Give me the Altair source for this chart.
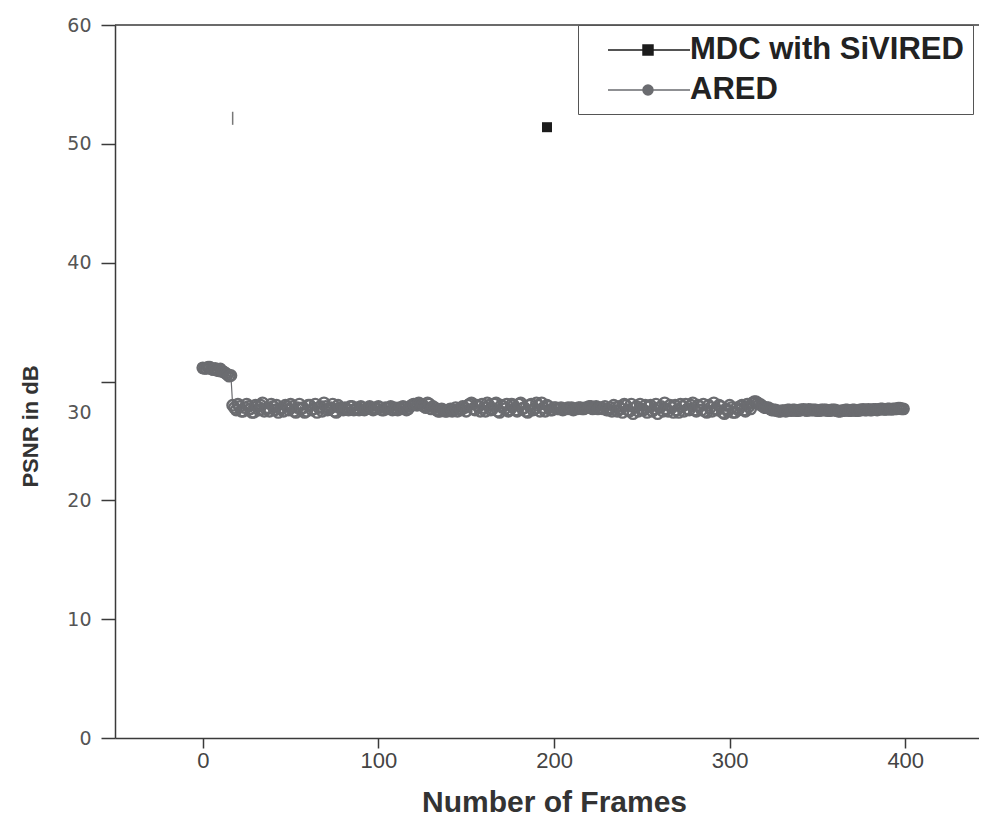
import altair as alt
import pandas as pd

# ---------------- data ----------------
series_names = ["MDC with SiVIRED", "ARED"]
series_colors = ["#1c1c1c", "#6b6c70"]

# ARED: first cluster (frames 0-16)
ared_frames_start = [0, 1, 2, 3, 4, 5, 6, 7, 8, 9, 10, 11, 12, 13, 14, 15, 16]
ared_psnr_start = [31.15, 31.1, 31.1, 31.2, 31.2, 31.05, 31.0, 31.1, 30.95, 30.9,
                   31.05, 30.85, 30.8, 30.7, 30.6, 30.45, 30.5]

# ARED band, odd frames 17-399
ared_frames_odd = list(range(17, 400, 2))
ared_psnr_odd = [
    28.0, 27.6, 27.9, 27.5, 28.1, 27.7, 27.4, 27.9, 28.0, 27.5, 27.8, 28.1, 27.6, 27.4, 27.8, 28.0,
    27.6, 27.9, 27.4, 28.1, 27.8, 27.5, 28.0, 27.7, 27.4, 27.9, 28.2, 27.6, 27.8, 27.5, 28.0, 27.7,
    27.8, 27.6, 27.9, 27.7, 27.6, 27.8, 27.7, 27.9, 27.6, 27.7, 27.8, 27.6, 27.7, 27.9, 27.8, 27.6,
    27.7, 27.8, 27.7, 28.0, 28.1, 28.2, 28.0, 27.8, 28.1, 27.9, 27.6, 27.5, 27.6, 27.5, 27.7, 27.6,
    27.5, 27.6, 27.8, 28.0, 28.2, 27.6, 27.9, 28.1, 27.5, 28.0, 27.7, 28.2, 27.4, 27.9, 28.1, 27.6,
    28.0, 27.5, 28.2, 27.8, 27.4, 28.1, 27.7, 28.0, 28.2, 27.5, 27.9, 27.6, 27.8, 27.7, 27.6, 27.7,
    27.7, 27.6, 27.7, 27.8, 27.7, 27.8, 27.9, 27.8, 27.7, 27.8, 27.9, 27.6, 27.5, 27.8, 27.9, 27.4,
    28.0, 27.5, 27.3, 27.9, 28.1, 27.6, 27.4, 28.0, 27.7, 27.3, 27.9, 28.2, 27.5, 27.8, 28.0, 27.4,
    27.9, 28.1, 27.6, 28.2, 27.5, 27.9, 28.1, 27.4, 27.8, 28.2, 27.6, 27.9, 27.3, 27.5, 27.8, 27.4,
    27.6, 28.0, 27.5, 27.9, 28.2, 28.3, 28.1, 27.9, 27.8, 27.7, 27.6, 27.55, 27.5, 27.55, 27.6, 27.55,
    27.6, 27.55, 27.6, 27.6, 27.65, 27.6, 27.6, 27.55, 27.6, 27.6, 27.55, 27.6, 27.55, 27.5, 27.55, 27.6,
    27.55, 27.6, 27.55, 27.6, 27.6, 27.65, 27.6, 27.65, 27.65, 27.7, 27.65, 27.7, 27.7, 27.7, 27.75, 27.7,
]

# ARED band, even frames 18-398
ared_frames_even = list(range(18, 399, 2))
ared_psnr_even = [
    27.8, 28.1, 27.5, 27.8, 27.9, 27.4, 28.0, 27.6, 28.2, 27.7, 27.5, 27.9, 28.0, 27.7, 27.5, 27.9,
    28.1, 27.5, 27.8, 27.7, 27.4, 28.0, 27.6, 28.1, 27.8, 27.5, 27.9, 27.7, 28.1, 27.4, 27.8, 27.6,
    27.7, 27.9, 27.6, 27.8, 27.9, 27.6, 27.8, 27.7, 27.8, 27.9, 27.6, 27.8, 27.8, 27.6, 27.7, 27.8,
    27.9, 27.6, 27.9, 28.1, 28.0, 28.1, 27.9, 28.2, 27.7, 27.8, 27.5, 27.7, 27.5, 27.6, 27.5, 27.8,
    27.7, 27.9, 27.5, 28.1, 27.7, 28.0, 27.5, 27.8, 28.2, 27.6, 28.1, 27.5, 28.0, 27.7, 27.5, 28.1,
    27.6, 28.1, 27.7, 27.5, 28.0, 27.6, 28.2, 27.5, 27.8, 28.0, 27.6, 27.8, 27.7, 27.8, 27.7, 27.8,
    27.8, 27.7, 27.8, 27.7, 27.8, 27.9, 27.7, 27.9, 27.8, 27.7, 27.6, 27.8, 28.0, 27.5, 27.7, 28.1,
    27.6, 28.1, 27.8, 27.5, 27.7, 28.0, 27.9, 27.5, 28.1, 27.8, 27.5, 27.7, 28.0, 27.4, 27.6, 28.1,
    27.5, 27.7, 28.0, 27.6, 28.0, 27.6, 27.5, 28.0, 27.5, 27.7, 28.0, 27.4, 27.7, 28.0, 27.4, 27.8,
    27.9, 27.6, 28.1, 27.7, 28.3, 28.2, 28.0, 27.8, 27.8, 27.6, 27.6, 27.5, 27.55, 27.5, 27.6, 27.6,
    27.55, 27.6, 27.65, 27.55, 27.6, 27.6, 27.55, 27.6, 27.6, 27.55, 27.6, 27.6, 27.5, 27.55, 27.6, 27.55,
    27.6, 27.55, 27.6, 27.65, 27.6, 27.6, 27.65, 27.6, 27.7, 27.65, 27.7, 27.65, 27.7, 27.75, 27.7,
]

# MDC with SiVIRED: a single visible marker
mdc_frames = [196]
mdc_psnr = [51.4]

# small vertical stroke seen near frame 17, ~52 dB
spike_frames = [17]
spike_low = [51.6]
spike_high = [52.7]

x_ticks = [0, 100, 200, 300, 400]
y_ticks = [0, 10, 20, 30, 40, 50, 60]
x_domain = [-50, 442]
y_domain = [0, 60]

# legend symbols: line + marker (custom paths; unit = half of the 30px symbol box)
legend_paths = [
    "M0.333,0H5.8M2.667,-0.333H3.333V0.333H2.667Z",
    "M0.333,0H5.8M2.667,0A0.333,0.333,0,1,1,3.333,0A0.333,0.333,0,1,1,2.667,0Z",
]

# ---------------- frames ----------------
ared_df = pd.DataFrame({
    "frame": ared_frames_start + ared_frames_odd + ared_frames_even,
    "psnr": ared_psnr_start + ared_psnr_odd + ared_psnr_even,
}).sort_values("frame")
mdc_df = pd.DataFrame({"frame": mdc_frames, "psnr": mdc_psnr})
spike_df = pd.DataFrame({"frame": spike_frames, "low": spike_low, "high": spike_high})
top_df = pd.DataFrame({"psnr": [y_domain[1]]})
legend_df = pd.DataFrame({"series": series_names, "frame": [-1000, -1000], "psnr": [-1000, -1000]})

AXIS = "#3a3a3a"
GREY = series_colors[1]
BLACK = series_colors[0]

x_enc = alt.X(
    "frame:Q",
    scale=alt.Scale(domain=x_domain, nice=False, zero=False),
    axis=alt.Axis(
        values=x_ticks,
        title="Number of Frames",
        grid=False,
        tickSize=10,
        labelPadding=2,
        labelFont="Liberation Sans, Arial, sans-serif",
        labelFontSize=22,
        labelColor="#444444",
        titleFont="Liberation Sans, Arial, sans-serif",
        titleFontSize=30,
        titleFontWeight="bold",
        titleColor="#333333",
        titlePadding=16,
        titleX=439,
    ),
)
y_enc = alt.Y(
    "psnr:Q",
    scale=alt.Scale(domain=y_domain, nice=False, zero=True),
    axis=alt.Axis(
        values=y_ticks,
        title="PSNR in dB",
        grid=False,
        tickSize=14,
        labelPadding=10,
        labelFont="DejaVu Sans, sans-serif",
        labelFontSize=19,
        labelColor="#555555",
        labelOffset={"condition": {"test": "datum.value == 30", "value": 31}, "value": 0},
        titleFont="Liberation Sans, Arial, sans-serif",
        titleFontSize=22,
        titleFontWeight="bold",
        titleColor="#333333",
        titleAngle=270,
        titleAlign="center",
        titleBaseline="middle",
        titleX=-85,
        titleY=401,
    ),
)

ared_line = alt.Chart(ared_df).mark_line(color=GREY, strokeWidth=1.2).encode(
    x=x_enc, y=y_enc, order="frame:Q"
)
ared_pts = alt.Chart(ared_df).mark_point(
    shape="circle", filled=False, color=GREY, strokeWidth=2.4, size=110, opacity=1
).encode(x="frame:Q", y="psnr:Q")
mdc_pt = alt.Chart(mdc_df).mark_point(
    shape="square", filled=True, color=BLACK, size=100, opacity=1
).encode(x="frame:Q", y="psnr:Q")
spike = alt.Chart(spike_df).mark_rule(color="#777777", strokeWidth=1.5).encode(
    x="frame:Q", y="low:Q", y2="high:Q"
)
top_rule = alt.Chart(top_df).mark_rule(color=AXIS, strokeWidth=1.5).encode(y="psnr:Q")

legend_def = alt.Legend(
    title=None,
    orient="none",
    legendX=463,
    legendY=0,
    padding=9,
    strokeColor="#555555",
    fillColor="white",
    labelFont="Liberation Sans, Arial, sans-serif",
    labelFontSize=31,
    labelFontWeight="bold",
    labelColor="#222222",
    labelOffset=71,
    labelLimit=400,
    rowPadding=9,
    symbolSize=900,
    symbolStrokeWidth=1.5,
    symbolOpacity=1,
)
legend_layer = alt.Chart(legend_df).mark_point(filled=True, clip=True, size=100).encode(
    x="frame:Q",
    y="psnr:Q",
    fill=alt.Fill("series:N", scale=alt.Scale(domain=series_names, range=series_colors), legend=legend_def),
    stroke=alt.Stroke("series:N", scale=alt.Scale(domain=series_names, range=series_colors), legend=legend_def),
    shape=alt.Shape("series:N", scale=alt.Scale(domain=series_names, range=legend_paths), legend=legend_def),
)

chart = alt.layer(
    top_rule, ared_line, ared_pts, spike, mdc_pt, legend_layer
).properties(
    width=864,
    height=713,
    autosize=alt.AutoSizeParams(type="none"),
    padding={"left": 107, "top": 17, "right": 0, "bottom": 83},
    background="white",
).configure_view(
    stroke=None
).configure_axis(
    domainColor=AXIS,
    domainWidth=1.5,
    tickColor=AXIS,
    tickWidth=1.5,
)

chart.save("out.html", embed_options={"renderer": "svg", "actions": False})
